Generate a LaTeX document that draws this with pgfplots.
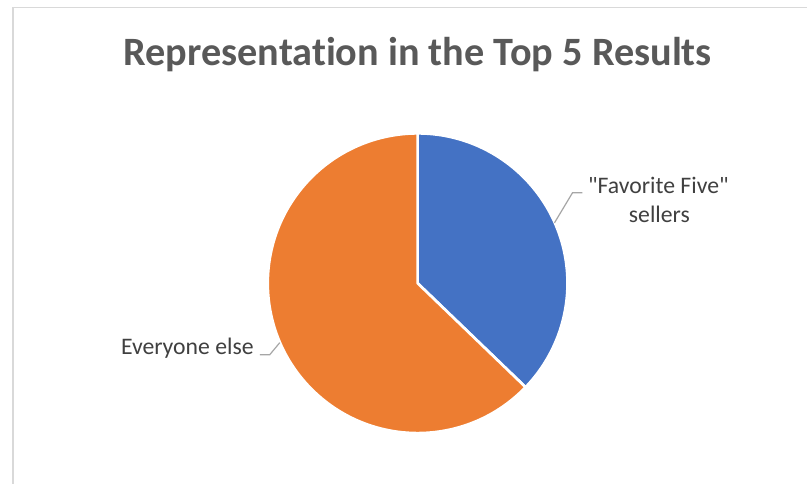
\documentclass[border=0pt]{standalone}
\usepackage{pgfplots}
\usepackage{pgfplotstable}
\pgfplotsset{compat=1.18}
\usepackage{fontspec}
\setmainfont{Carlito}[Ligatures={NoCommon,TeXOff}]
\definecolor{blueS}{HTML}{4472C4}
\definecolor{orangeS}{HTML}{ED7D31}
\definecolor{titlegray}{HTML}{595959}
\definecolor{labelgray}{HTML}{404040}
\definecolor{leadgray}{HTML}{A6A6A6}
\definecolor{bordergray}{HTML}{D9D9D9}
\pgfplotstableread{
label value
Favorite 37.2
Everyone 62.8
}\piedata
\begin{document}
\begin{tikzpicture}
\pgfplotstablegetelem{0}{value}\of\piedata \let\valA\pgfplotsretval
\pgfplotstablegetelem{1}{value}\of\piedata \let\valB\pgfplotsretval
\pgfmathsetmacro{\angA}{90-(\valA/(\valA+\valB))*360}
\pgfmathsetmacro{\angB}{\angA-(\valB/(\valA+\valB))*360}
\begin{axis}[scale only axis, width=606pt, height=363pt,
  xmin=0, xmax=808, ymin=0, ymax=484, hide axis, clip=false]
\fill[white] (axis cs:0,0) rectangle (axis cs:808,484);
\draw[bordergray, line width=1.1pt] (axis cs:13,0) -- (axis cs:13,476.5) -- (axis cs:808,476.5);
\filldraw[fill=blueS, draw=white, line width=2pt, line join=round]
  (axis cs:418,200.5) -- ++(90:112.5pt) arc[start angle=90, end angle=\angA, radius=112.5pt] -- cycle;
\filldraw[fill=orangeS, draw=white, line width=2pt, line join=round]
  (axis cs:418,200.5) -- ++(\angA:112.5pt) arc[start angle=\angA, end angle=\angB, radius=112.5pt] -- cycle;
\node[anchor=base, text=titlegray, font=\fontsize{30.2}{36}\selectfont\bfseries] at (axis cs:418,418) {Representation in the Top 5 Results};
\node[anchor=base, text=labelgray, font=\fontsize{17.8}{20}\selectfont] at (axis cs:187.5,129) {Everyone else};
\node[anchor=base, text=labelgray, font=\fontsize{17.8}{20}\selectfont] at (axis cs:659,290) {"Favorite Five"};
\node[anchor=base, text=labelgray, font=\fontsize{17.8}{20}\selectfont] at (axis cs:660,261) {sellers};
\draw[leadgray, line width=0.9pt] (axis cs:583,291) -- (axis cs:573,291) -- (axis cs:555,261);
\draw[leadgray, line width=0.9pt] (axis cs:260,129) -- (axis cs:270,129) -- (axis cs:280,141);
\end{axis}
\end{tikzpicture}
\end{document}
